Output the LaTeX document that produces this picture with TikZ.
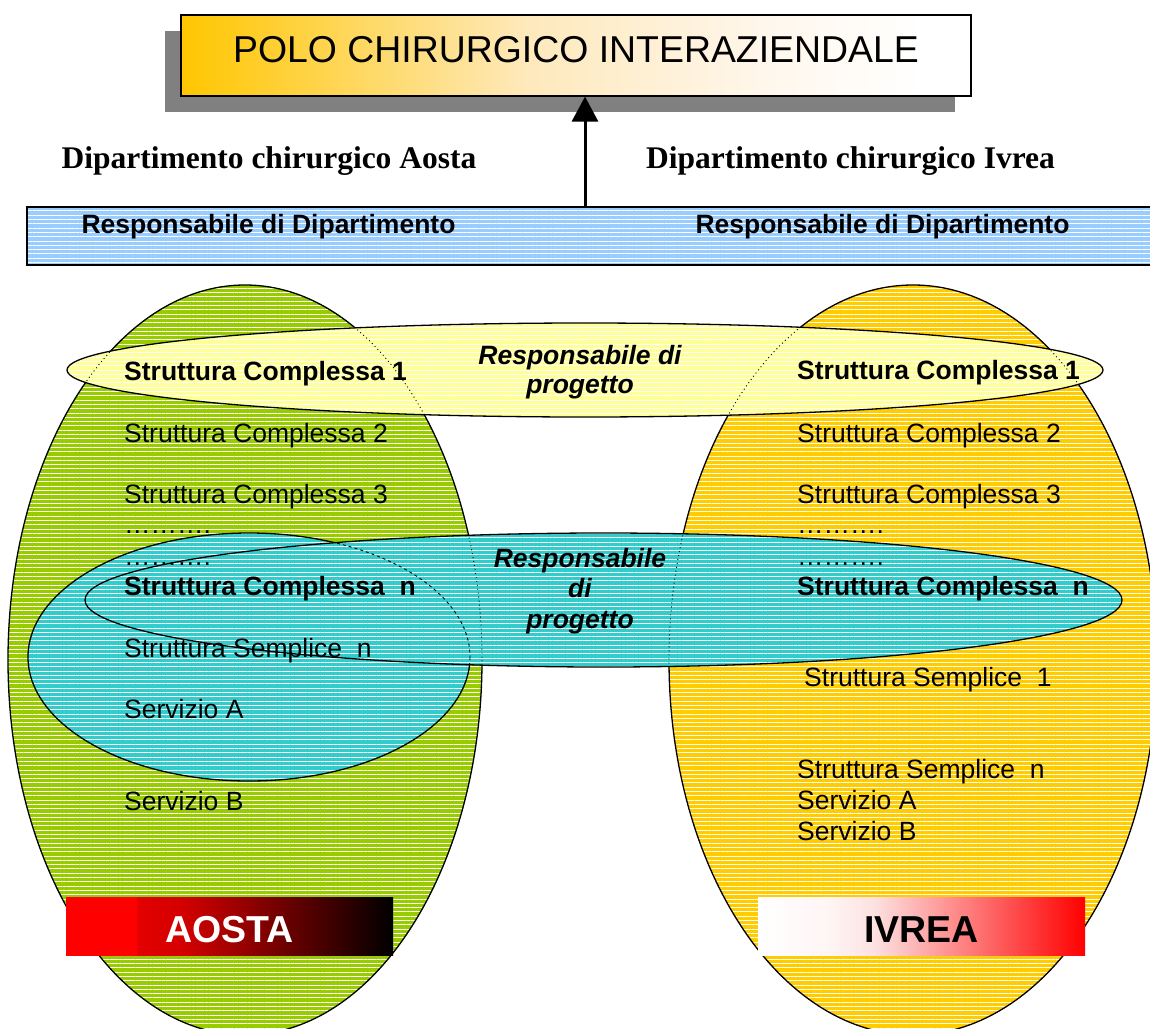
\documentclass[tikz,border=0pt]{standalone}
\usepackage{fontspec}
\setmainfont{Liberation Sans}
\newfontfamily\headserif{Liberation Serif}
\usetikzlibrary{arrows.meta, patterns.meta}

\definecolor{aostaGreen}{HTML}{99CC00}
\definecolor{ivreaGold}{HTML}{FFCC00}
\definecolor{progYellow}{HTML}{FFFF99}
\definecolor{progCyan}{HTML}{33CCCC}
\definecolor{barBlue}{HTML}{99CCFF}
\definecolor{shadowGray}{HTML}{808080}
\definecolor{titleGold}{HTML}{FFC600}
\definecolor{titleCream}{HTML}{FEE9BC}
\definecolor{titlePale}{HTML}{FFF7EC}
\definecolor{aostaRed}{HTML}{E30000}
\definecolor{aostaDark}{HTML}{D40000}
\definecolor{ivreaBlush}{HTML}{FFF5F5}
\definecolor{ivreaPink}{HTML}{FDE2E2}

\pgfdeclarehorizontalshading{poloShade}{100bp}{color(0bp)=(titleGold); color(25bp)=(titleGold); color(47bp)=(titleCream); color(62bp)=(titlePale); color(72bp)=(white); color(100bp)=(white)}
\pgfdeclarehorizontalshading{aostaShade}{100bp}{color(0bp)=(red); color(25bp)=(red); color(35.8bp)=(red); color(35.9bp)=(aostaRed); color(42.7bp)=(aostaDark); color(75bp)=(black); color(100bp)=(black)}
\pgfdeclarehorizontalshading{ivreaShade}{100bp}{color(0bp)=(white); color(25bp)=(white); color(35.7bp)=(ivreaBlush); color(42.6bp)=(ivreaPink); color(75bp)=(red); color(100bp)=(red)}

% zones of the two departments and the two project groups
\newcommand{\zoneAosta}{(245,660) ellipse [x radius=237, y radius=375]}
\newcommand{\zoneIvrea}{(913,660) ellipse [x radius=244, y radius=375]}
\newcommand{\progTop}{(585,370) ellipse [x radius=518, y radius=47]}
\newcommand{\progWide}{(249,657) ellipse [x radius=221, y radius=124]}
\newcommand{\progLong}{(603.5,600) ellipse [x radius=518.5, y radius=67]}

\begin{document}
\begin{tikzpicture}[
    x=1pt, y=-1pt,
    stripes/.style={pattern={Lines[angle=0, distance=4.3pt, line width=1pt]}, pattern color=white},
    zone/.style={preaction={fill=#1}, stripes, draw=black, line width=1.3pt},
    seen/.style={draw=black, line width=0.9pt, dash pattern=on 1pt off 3pt},
    seendash/.style={draw=black, line width=0.9pt, dash pattern=on 3pt off 3pt},
    entry/.style={anchor=base west, inner sep=0pt, font=\fontsize{26.5}{30}\selectfont},
    entrybold/.style={entry, font=\fontsize{26.5}{30}\selectfont\bfseries},
    prog/.style={align=center, inner sep=0pt, font=\fontsize{26.5}{29}\selectfont\bfseries\itshape},
    city/.style={minimum width=327pt, minimum height=58pt, inner sep=0pt, text height=32pt, text depth=0pt, font=\fontsize{37.5}{40}\selectfont\bfseries},
    uparrow/.style={-{Triangle[length=25pt, width=26pt]}, line width=3pt}
]
    % Page
    \useasboundingbox (0,0) rectangle (1150,1028);
    \fill[white] (0,0) rectangle (1150,1028);

    % Title with shadow
    \node[fill=shadowGray, minimum width=790pt, minimum height=81pt, inner sep=0pt] (poloShadow) at (560,71) {};
    \node[draw=black, line width=1.2pt, shading=poloShade, minimum width=790pt, minimum height=81pt, inner sep=0pt] (polo) at (576,55.5) {};
    \node[anchor=base, inner sep=0pt, font=\fontsize{37.4}{40}\selectfont] (poloText) at (576,62) {POLO CHIRURGICO INTERAZIENDALE};

    % Departments
    \node[anchor=base, inner sep=0pt, font=\headserif\fontsize{31.5}{34}\selectfont\bfseries] (depAosta) at (269,168) {Dipartimento chirurgico Aosta};
    \node[anchor=base, inner sep=0pt, font=\headserif\fontsize{31.5}{34}\selectfont\bfseries] (depIvrea) at (850.5,168) {Dipartimento chirurgico Ivrea};

    % Bar of the heads
    \node[draw=black, line width=1.2pt, preaction={fill=barBlue}, stripes, minimum width=1140pt, minimum height=58pt, inner sep=0pt] (bar) at (597,236) {};
    \node[anchor=base, inner sep=0pt, font=\fontsize{26.5}{30}\selectfont\bfseries] (respAosta) at (268.5,233) {Responsabile di Dipartimento};
    \node[anchor=base, inner sep=0pt, font=\fontsize{26.5}{30}\selectfont\bfseries] (respIvrea) at (882.5,233) {Responsabile di Dipartimento};

    % Arrow
    \coordinate (stem) at (585,150);
    \draw[uparrow] (bar.north -| stem) -- (polo.south -| stem);

    % Zones
    \draw[zone=aostaGreen] \zoneAosta;
    \draw[zone=ivreaGold] \zoneIvrea;

    \draw[zone=progYellow] \progTop;
    \begin{scope}
        \clip \progTop;
        \draw[seen] \zoneAosta;
        \draw[seen] \zoneIvrea;
    \end{scope}

    \draw[zone=progCyan] \progWide;
    \draw[zone=progCyan] \progLong;
    \begin{scope}
        \clip \progLong;
        \draw[seen] \zoneAosta;
        \draw[seen] \zoneIvrea;
        \draw[seendash] \progWide;
    \end{scope}

    % City labels
    \node[city, shading=aostaShade, text=white] (aosta) at (229.5,926) {AOSTA};
    \node[city, shading=ivreaShade, text=black] (ivrea) at (921.5,926) {IVREA};

    % Aosta structures
    \node[entrybold] (aSC1) at (124,380) {Struttura Complessa 1};
    \node[entry] (aSC2) at (124,442) {Struttura Complessa 2};
    \node[entry] (aSC3) at (124,503) {Struttura Complessa 3};
    \node[entry] (aDots1) at (124,533) {……….};
    \node[entry] (aDots2) at (124,565) {……….};
    \node[entrybold] (aSCn) at (124,595) {Struttura Complessa~~n};
    \node[entry] (aSSn) at (124,657) {Struttura Semplice~~n};
    \node[entry] (aServA) at (124,718) {Servizio A};
    \node[entry] (aServB) at (124,810) {Servizio B};

    % Ivrea structures
    \node[entrybold] (iSC1) at (797,379) {Struttura Complessa 1};
    \node[entry] (iSC2) at (797,442) {Struttura Complessa 2};
    \node[entry] (iSC3) at (797,503) {Struttura Complessa 3};
    \node[entry] (iDots1) at (797,533) {……….};
    \node[entry] (iDots2) at (797,565) {……….};
    \node[entrybold] (iSCn) at (797,595) {Struttura Complessa~~n};
    \node[entry] (iSS1) at (804,686) {Struttura Semplice~~1};
    \node[entry] (iSSn) at (797,778) {Struttura Semplice~~n};
    \node[entry] (iServA) at (797,809) {Servizio A};
    \node[entry] (iServB) at (797,840) {Servizio B};

    % Project heads
    \node[prog] (progTopText) at (580,372.6) {Responsabile di\\progetto};
    \node[prog] (progLongText) at (580,590.7) {Responsabile\\[1.5pt]di\\[1.5pt]progetto};
\end{tikzpicture}
\end{document}
